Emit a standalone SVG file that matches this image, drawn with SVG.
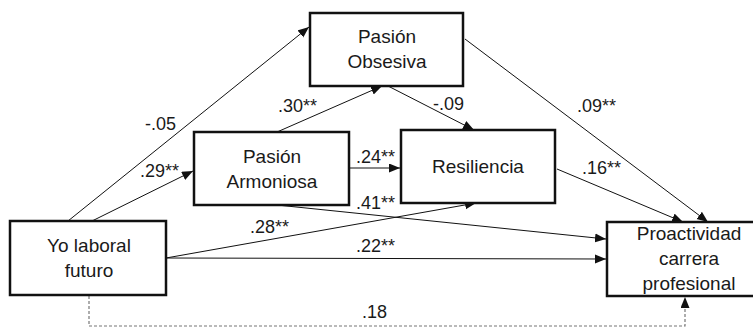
<svg xmlns="http://www.w3.org/2000/svg" width="753" height="328" viewBox="0 0 753 328">
<style>
  .box { fill: #fff; stroke: #111; stroke-width: 2.5; }
  .t { font-family: "Liberation Sans", Arial, sans-serif; font-size: 19px; fill: #1a1a1a; text-anchor: middle; }
  .l { font-family: "Liberation Sans", Arial, sans-serif; font-size: 18px; fill: #1a1a1a; }
  .c { stroke: #111; stroke-width: 1; fill: none; marker-end: url(#ah); }
  .d { stroke: #777; stroke-width: 1.2; fill: none; stroke-dasharray: 3 2; marker-end: url(#ah); }
</style>
<defs>
  <marker id="ah" markerUnits="userSpaceOnUse" markerWidth="12" markerHeight="10" refX="11" refY="4.5" orient="auto">
    <path d="M0,0 L11,4.5 L0,9 z" fill="#111"/>
  </marker>
</defs>
<rect width="753" height="328" fill="#fff"/>
<g id="connectors">
  <line class="c" x1="68" y1="221" x2="309" y2="27"/>
  <line class="c" x1="92" y1="221" x2="193" y2="171"/>
  <line class="c" x1="277" y1="132" x2="382" y2="86"/>
  <line class="c" x1="388" y1="86" x2="474" y2="130"/>
  <line class="c" x1="465" y1="39" x2="708" y2="222"/>
  <line class="c" x1="349" y1="168" x2="400" y2="168"/>
  <line class="c" x1="557" y1="169" x2="683" y2="222"/>
  <line class="c" x1="277" y1="205" x2="606" y2="239"/>
  <line class="c" x1="166" y1="258" x2="476" y2="203"/>
  <line class="c" x1="166" y1="258" x2="606" y2="259"/>
  <path class="d" d="M89,296 V326 H685 V297"/>
</g>
<g id="labels">
  <text class="l" x="145" y="130">-.05</text>
  <text class="l" x="278" y="112">.30**</text>
  <text class="l" x="140" y="177">.29**</text>
  <text class="l" x="433" y="110">-.09</text>
  <text class="l" x="577" y="112">.09**</text>
  <text class="l" x="356" y="163">.24**</text>
  <text class="l" x="582" y="174">.16**</text>
  <text class="l" x="356" y="209">.41**</text>
  <text class="l" x="250" y="233">.28**</text>
  <text class="l" x="356" y="252">.22**</text>
  <text class="l" x="362" y="318">.18</text>
</g>
<g id="pasion-obsesiva">
  <rect class="box" x="310" y="13" width="153" height="73"/>
  <text class="t" x="387" y="43">Pasión</text>
  <text class="t" x="387" y="68">Obsesiva</text>
</g>
<g id="pasion-armoniosa">
  <rect class="box" x="194" y="132" width="155" height="73"/>
  <text class="t" x="272" y="163">Pasión</text>
  <text class="t" x="272" y="188">Armoniosa</text>
</g>
<g id="resiliencia">
  <rect class="box" x="401" y="130" width="154" height="73"/>
  <text class="t" x="478" y="173">Resiliencia</text>
</g>
<g id="yo-laboral-futuro">
  <rect class="box" x="10" y="221" width="156" height="74"/>
  <text class="t" x="89" y="252">Yo laboral</text>
  <text class="t" x="89" y="277">futuro</text>
</g>
<g id="proactividad">
  <rect class="box" x="607" y="222" width="164" height="74"/>
  <text class="t" x="689" y="240">Proactividad</text>
  <text class="t" x="689" y="265">carrera</text>
  <text class="t" x="689" y="290">profesional</text>
</g>
</svg>
